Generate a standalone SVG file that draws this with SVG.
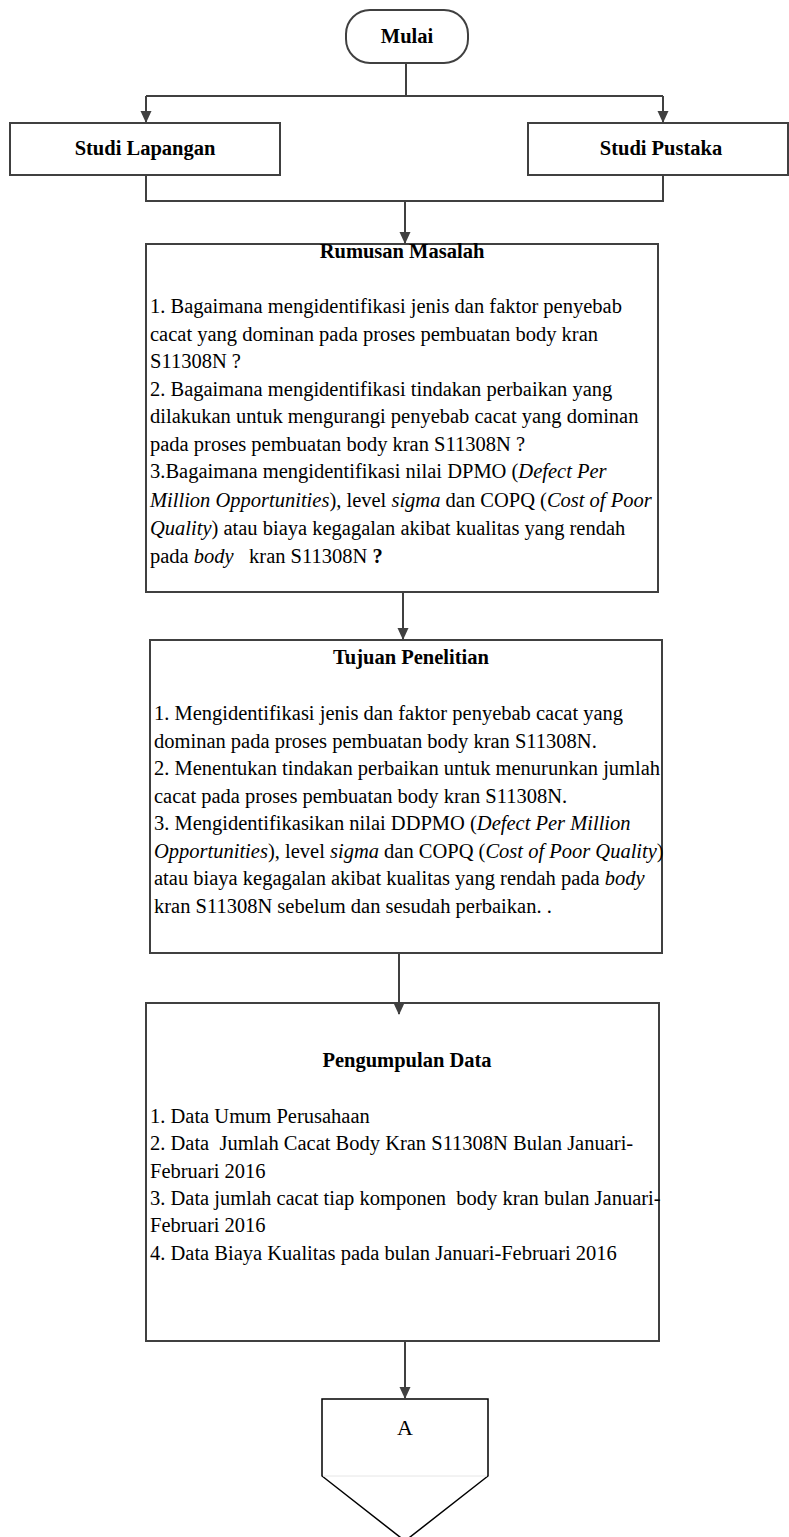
<svg xmlns="http://www.w3.org/2000/svg" width="789" height="1537" viewBox="0 0 789 1537">
  <style>
    .box { fill: #ffffff; stroke: #404040; stroke-width: 2; }
    .off { fill: #ffffff; stroke: #000000; stroke-width: 1.5; }
    .wire { fill: none; stroke: #404040; stroke-width: 2; }
    .t { font-family: "Liberation Serif", "Times New Roman", serif; font-size: 20.5px; fill: #000000; white-space: pre; }
    .b { font-weight: bold; }
    .c { text-anchor: middle; }
    .i { font-style: italic; }
  </style>
  <defs>
    <marker id="arrow" markerWidth="12" markerHeight="12" refX="11" refY="6" orient="auto" markerUnits="userSpaceOnUse">
      <path d="M0,0.5 L12,6 L0,11.5 Z" fill="#404040"/>
    </marker>
  </defs>

  <!-- start terminal -->
  <g id="mulai">
    <rect class="box" x="346" y="10" width="122" height="53" rx="24" ry="24"/>
    <text class="t b c" x="407" y="43">Mulai</text>
  </g>

  <g id="studi-lapangan">
    <rect class="box" x="10" y="123" width="270" height="52"/>
    <text class="t b c" x="145" y="155">Studi Lapangan</text>
  </g>

  <g id="studi-pustaka">
    <rect class="box" x="528" y="123" width="260" height="52"/>
    <text class="t b c" x="661" y="155">Studi Pustaka</text>
  </g>

  <g id="rumusan-masalah">
    <rect class="box" x="146" y="244" width="512" height="348"/>
    <text class="t b c" x="402" y="258">Rumusan Masalah</text>
    <text class="t" x="150" y="313">1. Bagaimana mengidentifikasi jenis dan faktor penyebab</text>
    <text class="t" x="150" y="341">cacat yang dominan pada proses pembuatan body kran</text>
    <text class="t" x="150" y="368">S11308N ?</text>
    <text class="t" x="150" y="396">2. Bagaimana mengidentifikasi tindakan perbaikan yang</text>
    <text class="t" x="150" y="423">dilakukan untuk mengurangi penyebab cacat yang dominan</text>
    <text class="t" x="150" y="451">pada proses pembuatan body kran S11308N ?</text>
    <text class="t" x="150" y="478">3.Bagaimana mengidentifikasi nilai DPMO (<tspan class="i">Defect Per</tspan></text>
    <text class="t" x="150" y="507"><tspan class="i">Million Opportunities</tspan>), level <tspan class="i">sigma</tspan> dan COPQ (<tspan class="i">Cost of Poor</tspan></text>
    <text class="t" x="150" y="535"><tspan class="i">Quality</tspan>) atau biaya kegagalan akibat kualitas yang rendah</text>
    <text class="t" x="150" y="563">pada <tspan class="i">body</tspan>   kran S11308N <tspan class="b">?</tspan></text>
  </g>

  <g id="tujuan-penelitian">
    <rect class="box" x="150" y="640" width="512" height="313"/>
    <text class="t b c" x="411" y="664">Tujuan Penelitian</text>
    <text class="t" x="154" y="720">1. Mengidentifikasi jenis dan faktor penyebab cacat yang</text>
    <text class="t" x="154" y="747.5">dominan pada proses pembuatan body kran S11308N.</text>
    <text class="t" x="154" y="775">2. Menentukan tindakan perbaikan untuk menurunkan jumlah</text>
    <text class="t" x="154" y="802.5">cacat pada proses pembuatan body kran S11308N.</text>
    <text class="t" x="154" y="830">3. Mengidentifikasikan nilai DDPMO (<tspan class="i">Defect Per Million</tspan></text>
    <text class="t" x="154" y="857.5"><tspan class="i">Opportunities</tspan>), level <tspan class="i">sigma</tspan> dan COPQ (<tspan class="i">Cost of Poor Quality</tspan>)</text>
    <text class="t" x="154" y="885">atau biaya kegagalan akibat kualitas yang rendah pada <tspan class="i">body</tspan></text>
    <text class="t" x="154" y="912.5">kran S11308N sebelum dan sesudah perbaikan. .</text>
  </g>

  <g id="pengumpulan-data">
    <rect class="box" x="146" y="1003" width="513" height="338"/>
    <text class="t b c" x="407" y="1067">Pengumpulan Data</text>
    <text class="t" x="150" y="1123">1. Data Umum Perusahaan</text>
    <text class="t" x="150" y="1150">2. Data  Jumlah Cacat Body Kran S11308N Bulan Januari-</text>
    <text class="t" x="150" y="1178">Februari 2016</text>
    <text class="t" x="150" y="1205">3. Data jumlah cacat tiap komponen  body kran bulan Januari-</text>
    <text class="t" x="150" y="1232">Februari 2016</text>
    <text class="t" x="150" y="1260">4. Data Biaya Kualitas pada bulan Januari-Februari 2016</text>
  </g>

  <!-- off-page connector -->
  <g id="connector-a">
    <path class="off" d="M322,1399 H488 V1476 L405,1541 L322,1476 Z"/>
    <line x1="323" y1="1476" x2="487" y2="1476" stroke="#e6e6e6" stroke-width="1"/>
    <text class="t c" x="405" y="1435" style="font-size:22px">A</text>
  </g>

  <!-- connectors, drawn last so arrowheads sit on top of box edges -->
  <g id="connectors">
    <path class="wire" d="M406,63 V96 M146,96 H663"/>
    <path class="wire" d="M146,96 V122" marker-end="url(#arrow)"/>
    <path class="wire" d="M663,96 V122" marker-end="url(#arrow)"/>
    <path class="wire" d="M146,175 V201 H663 V175"/>
    <path class="wire" d="M405,201 V243" marker-end="url(#arrow)"/>
    <path class="wire" d="M403,593 V639" marker-end="url(#arrow)"/>
    <path class="wire" d="M399,954 V1014" marker-end="url(#arrow)"/>
    <path class="wire" d="M405,1342 V1398" marker-end="url(#arrow)"/>
  </g>
</svg>
